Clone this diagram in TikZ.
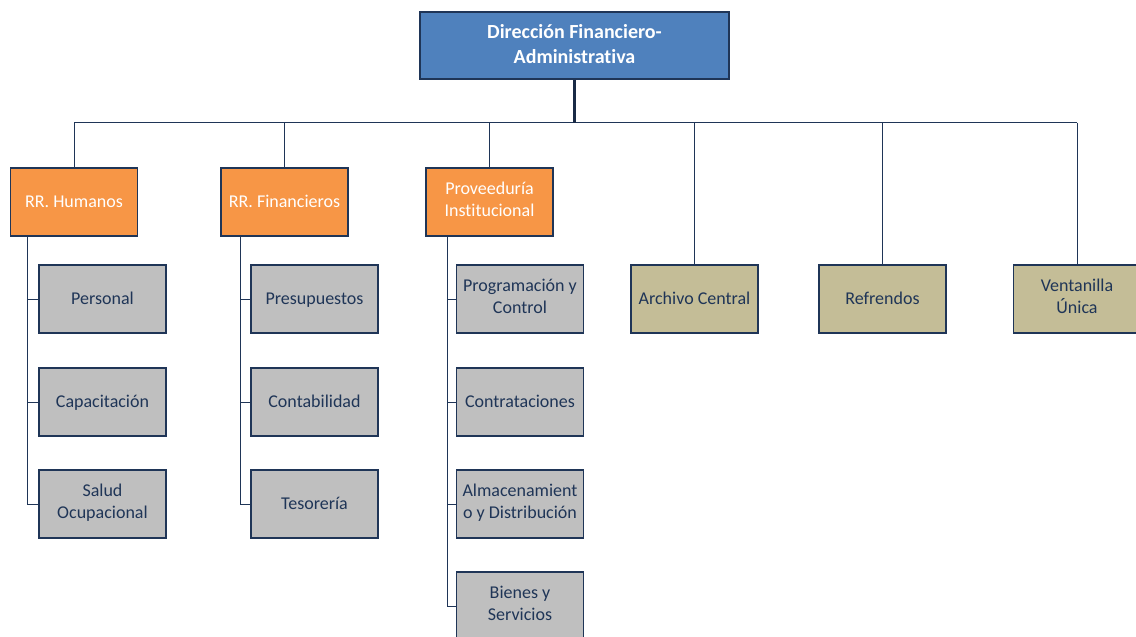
\documentclass[tikz,border=0pt]{standalone}
\usepackage{fontspec}
\setmainfont[Ligatures=NoCommon]{Carlito}
\definecolor{navy}{HTML}{1F3557}
\definecolor{topblue}{HTML}{4F81BD}
\definecolor{deptorange}{HTML}{F79646}
\definecolor{unitgray}{HTML}{BFBFBF}
\definecolor{unittan}{HTML}{C4BD97}
% fixed line heights so that the text sits on the box centre
\newcommand\boxstrut{\rule[-5.6pt]{0pt}{22.4pt}}
\newcommand\headstrut{\rule[-3.2pt]{0pt}{25.2pt}}
\begin{document}
\begin{tikzpicture}[x=1pt,y=-1pt,
  box/.style={draw=navy,line width=1.1pt,minimum width=127pt,minimum height=68pt,
    inner sep=2pt,align=center,font=\fontsize{18}{22}\selectfont,
    execute at begin node=\boxstrut,execute at end node=\boxstrut},
  headbox/.style={draw=navy,line width=1.1pt,inner sep=2pt,align=center,
    fill=topblue,text=white,minimum width=309pt,minimum height=67pt,
    font=\fontsize{20}{25}\selectfont\bfseries,
    execute at begin node=\headstrut,execute at end node=\headstrut},
  deptbox/.style={box,fill=deptorange,text=white},
  unitbox/.style={box,fill=unitgray,text=navy},
  staffbox/.style={box,fill=unittan,text=navy},
  link/.style={draw=navy,line width=1pt},
  trunk/.style={draw=navy!80!black,line width=2.6pt}]
\useasboundingbox (0,0) rectangle (1136,637);

% top level
\node[headbox] (top) at (574.5,45.5) {Dirección Financiero-\\Administrativa};

% departments
\node[deptbox] (hum)  at (74,202)    {RR. Humanos};
\node[deptbox] (fin)  at (284.5,202) {RR. Financieros};
\node[deptbox] (prov) at (489.5,202) {Proveeduría\\Institucional};

% staff units
\node[staffbox] (arch) at (694.5,299) {Archivo Central};
\node[staffbox] (ref)  at (882.5,299) {Refrendos};
\node[staffbox] (vent) at (1077,299)  {Ventanilla\\Única};

% units under RR. Humanos
\node[unitbox] (h1) at (102.5,299) {Personal};
\node[unitbox] (h2) at (102.5,402) {Capacitación};
\node[unitbox] (h3) at (102.5,504) {Salud\\Ocupacional};

% units under RR. Financieros
\node[unitbox] (f1) at (314.5,299) {Presupuestos};
\node[unitbox] (f2) at (314.5,402) {Contabilidad};
\node[unitbox] (f3) at (314.5,504) {Tesorería};

% units under Proveeduría
\node[unitbox] (v1) at (520,299) {Programación y\\Control};
\node[unitbox] (v2) at (520,402) {Contrataciones};
\node[unitbox] (v3) at (520,504) {Almacenamient\\o y Distribución};
\node[unitbox] (v4) at (520,606) {Bienes y\\Servicios};

% bus
\coordinate (bus) at (0,122.5);
\draw[link] (hum.north |- bus) -- (vent.north |- bus);
\foreach \n in {hum,fin,prov,arch,ref,vent}
  \draw[link] (\n.north |- bus) -- (\n.north);
\draw[trunk] (top.south) -- (top.south |- bus);

% side spines
\draw[link] ([xshift=18]hum.south west) coordinate (hs) |- (h3.west);
\foreach \n in {h1,h2} \draw[link] (\n.west) -- (\n.west -| hs);
\draw[link] ([xshift=20]fin.south west) coordinate (fs) |- (f3.west);
\foreach \n in {f1,f2} \draw[link] (\n.west) -- (\n.west -| fs);
\draw[link] ([xshift=22]prov.south west) coordinate (ps) |- (v4.west);
\foreach \n in {v1,v2,v3} \draw[link] (\n.west) -- (\n.west -| ps);
\end{tikzpicture}
\end{document}
